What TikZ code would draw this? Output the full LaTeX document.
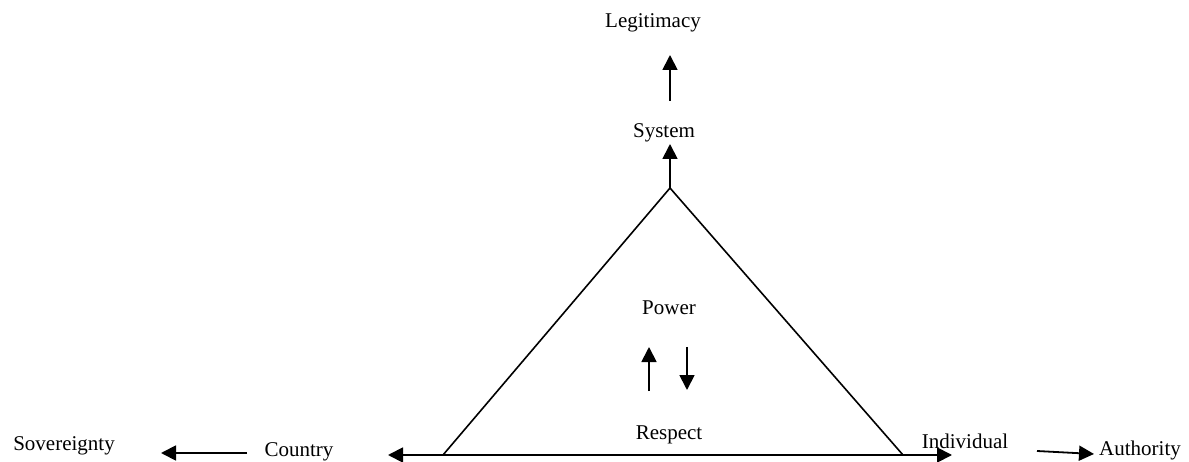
\documentclass[tikz,border=0pt]{standalone}
\usepackage{fontspec}
\setmainfont{Liberation Serif}
\usetikzlibrary{arrows.meta}
\begin{document}
\begin{tikzpicture}[x=1pt,y=-1pt,
  lbl/.style={font=\fontsize{21}{24}\selectfont, anchor=base, inner sep=0pt},
  arr/.style={line width=1.8pt, -{Triangle[length=15pt,width=15pt]}},
  tri/.style={line width=1.6pt, line join=miter}]
\useasboundingbox (0,0) rectangle (1189,462);
% labels
\node[lbl] (legit) at (653,28) {Legitimacy};
\node[lbl] (system) at (664,138) {System};
\node[lbl] (power) at (669,315) {Power};
\node[lbl] (respect) at (669,439) {Respect};
\node[lbl] (sov) at (64,450) {Sovereignty};
\node[lbl] (country) at (299,456) {Country};
\node[lbl] (indiv) at (965,448) {Individual};
\node[lbl] (auth) at (1140,455) {Authority};
% triangle
\coordinate (apex) at (670,188);
\coordinate (bl) at (443,455);
\coordinate (br) at (903,455);
\draw[tri] (bl) -- (apex) -- (br);
% base line with arrows both sides
\coordinate (baseL) at (388,455);
\coordinate (baseR) at (952,455);
\draw[line width=1.8pt, {Triangle[length=15pt,width=15pt]}-{Triangle[length=15pt,width=15pt]}] (baseL) -- (baseR);
% vertical arrows
\coordinate (a1s) at (670,101);
\coordinate (a1e) at (670,55);
\draw[arr] (a1s) -- (a1e);
\coordinate (a2e) at (670,144);
\draw[arr] (apex) -- (a2e);
% power/respect arrows
\coordinate (u1s) at (649,391);
\coordinate (u1e) at (649,347);
\draw[arr] (u1s) -- (u1e);
\coordinate (d1s) at (687,347);
\coordinate (d1e) at (687,390);
\draw[arr] (d1s) -- (d1e);
% country -> sovereignty
\coordinate (cs) at (247,453);
\coordinate (ce) at (161,453);
\draw[arr] (cs) -- (ce);
% individual -> authority
\coordinate (is) at (1037,451);
\coordinate (ie) at (1094,454);
\draw[arr] (is) -- (ie);
\end{tikzpicture}
\end{document}
